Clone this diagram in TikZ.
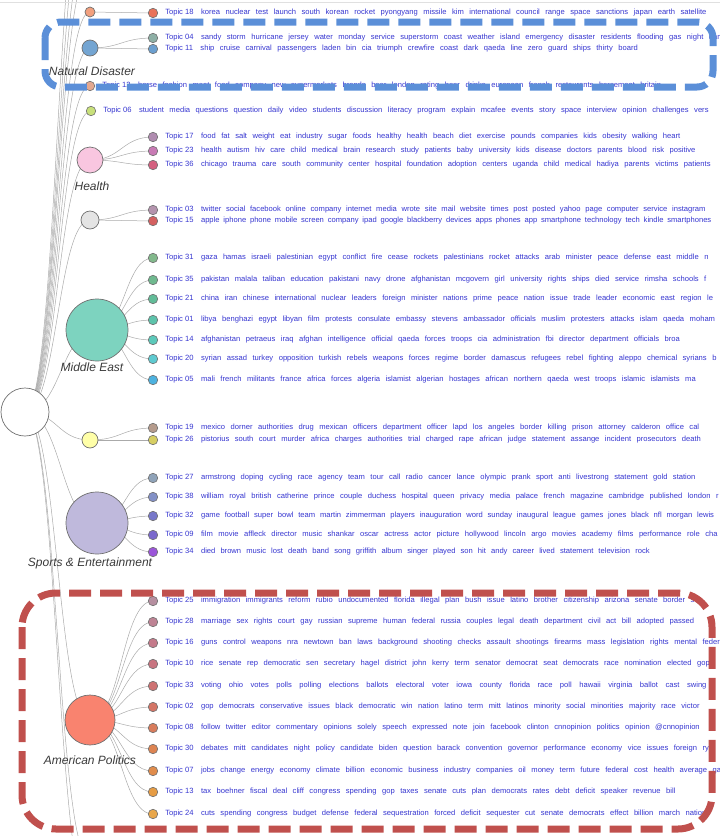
\documentclass[tikz,border=0pt]{standalone}
\usepackage{fontspec}
\setmainfont{Liberation Sans}
\usetikzlibrary{positioning,calc,backgrounds}
\definecolor{kwblue}{HTML}{3535D0}
\definecolor{linkgrey}{HTML}{AAAAAA}
\definecolor{rimgrey}{HTML}{707070}
\definecolor{labgrey}{HTML}{3A3A3A}
\definecolor{boxblue}{HTML}{5B8FD8}
\definecolor{boxred}{HTML}{C0504D}
% hub colours
\definecolor{hubkorea}{HTML}{F2A07E}
\definecolor{hubnat}{HTML}{74A5D2}
\definecolor{hubhealth}{HTML}{F9C6E0}
\definecolor{hubtech}{HTML}{E4E4E4}
\definecolor{hubmid}{HTML}{7DD3BF}
\definecolor{hubcrime}{HTML}{FFFFA8}
\definecolor{hubsport}{HTML}{BFB9DC}
\definecolor{hubpol}{HTML}{F9836F}
% topic colours
\definecolor{c18}{HTML}{E9735B}\definecolor{c04}{HTML}{8DAFA5}\definecolor{c11}{HTML}{6B9FCF}
\definecolor{c12}{HTML}{E3A890}\definecolor{c06}{HTML}{C8E07A}
\definecolor{c17}{HTML}{B08CB0}\definecolor{c23}{HTML}{C87AB4}\definecolor{c36}{HTML}{D4607F}
\definecolor{c03}{HTML}{B494AE}\definecolor{c15}{HTML}{D46060}
\definecolor{c31}{HTML}{82B98C}\definecolor{c35}{HTML}{6FB98F}\definecolor{c21}{HTML}{62BC98}
\definecolor{c01}{HTML}{5DC3AB}\definecolor{c14}{HTML}{5CC9BA}\definecolor{c20}{HTML}{5ECAD0}
\definecolor{c05}{HTML}{4DB2DF}
\definecolor{c19}{HTML}{B59B8C}\definecolor{c26}{HTML}{D6CE63}
\definecolor{c27}{HTML}{8FA3B9}\definecolor{c38}{HTML}{8290C6}\definecolor{c32}{HTML}{7777C9}
\definecolor{c09}{HTML}{7A68CC}\definecolor{c34}{HTML}{9B55D9}
\definecolor{c25}{HTML}{B68FA0}\definecolor{c28}{HTML}{BE8394}\definecolor{c16}{HTML}{C47A8A}
\definecolor{c10}{HTML}{C87480}\definecolor{c33}{HTML}{CE7272}\definecolor{c02}{HTML}{D47566}
\definecolor{c08}{HTML}{D87C5C}\definecolor{c30}{HTML}{DD8452}\definecolor{c07}{HTML}{E08C4C}
\definecolor{c13}{HTML}{E69C44}\definecolor{c24}{HTML}{E8A64A}
\newcommand\kwfont{\fontsize{7.6}{9}\selectfont}
\tikzset{hub/.style={circle,draw=rimgrey,line width=0.7pt,inner sep=0pt},leaf/.style={circle,draw=rimgrey,line width=0.6pt,inner sep=0pt,minimum size=9.5pt},kw/.style={anchor=west,text=kwblue,inner sep=0pt,font=\kwfont},grp/.style={font=\fontsize{12}{14}\selectfont\itshape,text=labgrey,inner sep=0pt},link/.style={draw=linkgrey,line width=0.5pt},zone/.style={line width=7pt,rounded corners=16pt,dash pattern=on 22pt off 9pt}}
% curved link between two named nodes
\newcommand\diag[2]{\draw[link] let \p1=(#1.center),\p2=(#2.center) in (\p1) .. controls ({(\x1+\x2)/2},\y1) and ({(\x1+\x2)/2},\y2) .. (\p2);}
% topic leaf: [word gap] hub, number, y, words
\newcommand\topic[5][5.5pt]{\node[leaf,fill=c#3] (t#3) at (153,#4) {};
\node[kw,right=7pt of t#3] (t#3txt) {Topic\hspace{2.1pt}#3\hspace{7.5pt}\spaceskip=#1\relax #5};
\begin{scope}[on background layer]\diag{#2}{t#3}\end{scope}}

\begin{document}
\begin{tikzpicture}[x=1pt,y=-1pt]
\useasboundingbox (0,0) rectangle (720,836);
\clip (0,0) rectangle (720,836);
\draw[black!12,line width=0.8pt] (0,2) -- (720,2);

\node[hub,fill=white,minimum size=48pt] (root) at (25,412) {};
\node[hub,fill=hubkorea,minimum size=10pt] (korea) at (90,12) {};
\node[hub,fill=hubnat,minimum size=16pt] (natdis) at (90,48) {};
\node[leaf,fill=c12] (t12) at (90,86) {};
\node[leaf,fill=c06] (t06) at (91,111) {};
\node[hub,fill=hubhealth,minimum size=26pt] (health) at (90,160) {};
\node[hub,fill=hubtech,minimum size=18pt] (tech) at (90,220) {};
\node[hub,fill=hubmid,minimum size=62pt] (mideast) at (97,330) {};
\node[hub,fill=hubcrime,minimum size=16pt] (crime) at (90,440) {};
\node[hub,fill=hubsport,minimum size=62pt] (sports) at (97,523) {};
\node[hub,fill=hubpol,minimum size=50pt] (politics) at (90,720) {};
\coordinate (up1) at (90,-30);
\coordinate (up2) at (90,-60);
\coordinate (up3) at (90,-100);
\coordinate (up4) at (90,-150);
\coordinate (down1) at (90,860);
\coordinate (down2) at (90,900);

\node[grp] (natlab) at (92,71) {Natural Disaster};
\node[grp] (healthlab) at (92,186) {Health};
\node[grp] (midlab) at (92,367) {Middle East};
\node[grp] (sportlab) at (90,563) {Sports \& Entertainment};
\node[grp] (pollab) at (90,760) {American Politics};

\begin{scope}[on background layer]
\diag{root}{up4}\diag{root}{up3}\diag{root}{up2}\diag{root}{up1}
\diag{root}{korea}\diag{root}{natdis}\diag{root}{t12}\diag{root}{t06}
\diag{root}{health}\diag{root}{tech}\diag{root}{mideast}\diag{root}{crime}
\diag{root}{sports}\diag{root}{politics}\diag{root}{down1}\diag{root}{down2}
\end{scope}

\node[kw,right=7pt of t12] (t12txt) {Topic\hspace{2.1pt}12\hspace{7.5pt}\spaceskip=5.5pt horse fashion meat food company new supermarkets brands beer london rating beer drinks european french restaurants horsemeat britain};
\node[kw,right=7pt of t06] (t06txt) {Topic\hspace{2.1pt}06\hspace{7.5pt}\spaceskip=5.5pt student media questions question daily video students discussion literacy program explain mcafee events story space interview opinion challenges vers};

\topic{korea}{18}{13}{korea nuclear test launch south korean rocket pyongyang missile kim international council range space sanctions japan earth satellite}
\topic{natdis}{04}{38}{sandy storm hurricane jersey water monday service superstorm coast weather island emergency disaster residents flooding gas night dam}
\topic{natdis}{11}{49}{ship cruise carnival passengers laden bin cia triumph crewfire coast dark qaeda line zero guard ships thirty board}
\topic{health}{17}{137}{food fat salt weight eat industry sugar foods healthy health beach diet exercise pounds companies kids obesity walking heart}
\topic{health}{23}{151}{health autism hiv care child medical brain research study patients baby university kids disease doctors parents blood risk positive}
\topic{health}{36}{165}{chicago trauma care south community center hospital foundation adoption centers uganda child medical hadiya parents victims patients}
\topic[4.7pt]{tech}{03}{210}{twitter social facebook online company internet media wrote site mail website times post posted yahoo page computer service instagram}
\topic[3.8pt]{tech}{15}{221}{apple iphone phone mobile screen company ipad google blackberry devices apps phones app smartphone technology tech kindle smartphones}
\topic{mideast}{31}{258}{gaza hamas israeli palestinian egypt conflict fire cease rockets palestinians rocket attacks arab minister peace defense east middle n}
\topic{mideast}{35}{280}{pakistan malala taliban education pakistani navy drone afghanistan mcgovern girl university rights ships died service rimsha schools f}
\topic{mideast}{21}{299}{china iran chinese international nuclear leaders foreign minister nations prime peace nation issue trade leader economic east region le}
\topic{mideast}{01}{320}{libya benghazi egypt libyan film protests consulate embassy stevens ambassador officials muslim protesters attacks islam qaeda moham}
\topic{mideast}{14}{340}{afghanistan petraeus iraq afghan intelligence official qaeda forces troops cia administration fbi director department officials broa}
\topic{mideast}{20}{359}{syrian assad turkey opposition turkish rebels weapons forces regime border damascus refugees rebel fighting aleppo chemical syrians b}
\topic{mideast}{05}{380}{mali french militants france africa forces algeria islamist algerian hostages african northern qaeda west troops islamic islamists ma}
\topic{crime}{19}{428}{mexico dorner authorities drug mexican officers department officer lapd los angeles border killing prison attorney calderon office cal}
\topic{crime}{26}{440}{pistorius south court murder africa charges authorities trial charged rape african judge statement assange incident prosecutors death}
\topic{sports}{27}{478}{armstrong doping cycling race agency team tour call radio cancer lance olympic prank sport anti livestrong statement gold station}
\topic{sports}{38}{497}{william royal british catherine prince couple duchess hospital queen privacy media palace french magazine cambridge published london r}
\topic[4.8pt]{sports}{32}{516}{game football super bowl team martin zimmerman players inauguration word sunday inaugural league games jones black nfl morgan lewis}
\topic{sports}{09}{535}{film movie affleck director music shankar oscar actress actor picture hollywood lincoln argo movies academy films performance role cha}
\topic[5.1pt]{sports}{34}{552}{died brown music lost death band song griffith album singer played son hit andy career lived statement television rock}
\topic{politics}{25}{601}{immigration immigrants reform rubio undocumented florida illegal plan bush issue latino brother citizenship arizona senate border ser}
\topic{politics}{28}{622}{marriage sex rights court gay russian supreme human federal russia couples legal death department civil act bill adopted passed}
\topic{politics}{16}{643}{guns control weapons nra newtown ban laws background shooting checks assault shootings firearms mass legislation rights mental federal}
\topic{politics}{10}{664}{rice senate rep democratic sen secretary hagel district john kerry term senator democrat seat democrats race nomination elected gop}
\topic[7.5pt]{politics}{33}{686}{voting ohio votes polls polling elections ballots electoral voter iowa county florida race poll hawaii virginia ballot cast swing}
\topic{politics}{02}{707}{gop democrats conservative issues black democratic win nation latino term mitt latinos minority social minorities majority race victor}
\topic{politics}{08}{728}{follow twitter editor commentary opinions solely speech expressed note join facebook clinton cnnopinion politics opinion @cnnopinion}
\topic{politics}{30}{749}{debates mitt candidates night policy candidate biden question barack convention governor performance economy vice issues foreign rya}
\topic{politics}{07}{771}{jobs change energy economy climate billion economic business industry companies oil money term future federal cost health average gas}
\topic{politics}{13}{792}{tax boehner fiscal deal cliff congress spending gop taxes senate cuts plan democrats rates debt deficit speaker revenue bill}
\topic{politics}{24}{814}{cuts spending congress budget defense federal sequestration forced deficit sequester cut senate democrats effect billion march nation}

\draw[zone,draw=boxblue] (45,22) rectangle (713,87);
\draw[zone,draw=boxred,rounded corners=34pt] (22,593) rectangle (712,829);
\end{tikzpicture}
\end{document}
